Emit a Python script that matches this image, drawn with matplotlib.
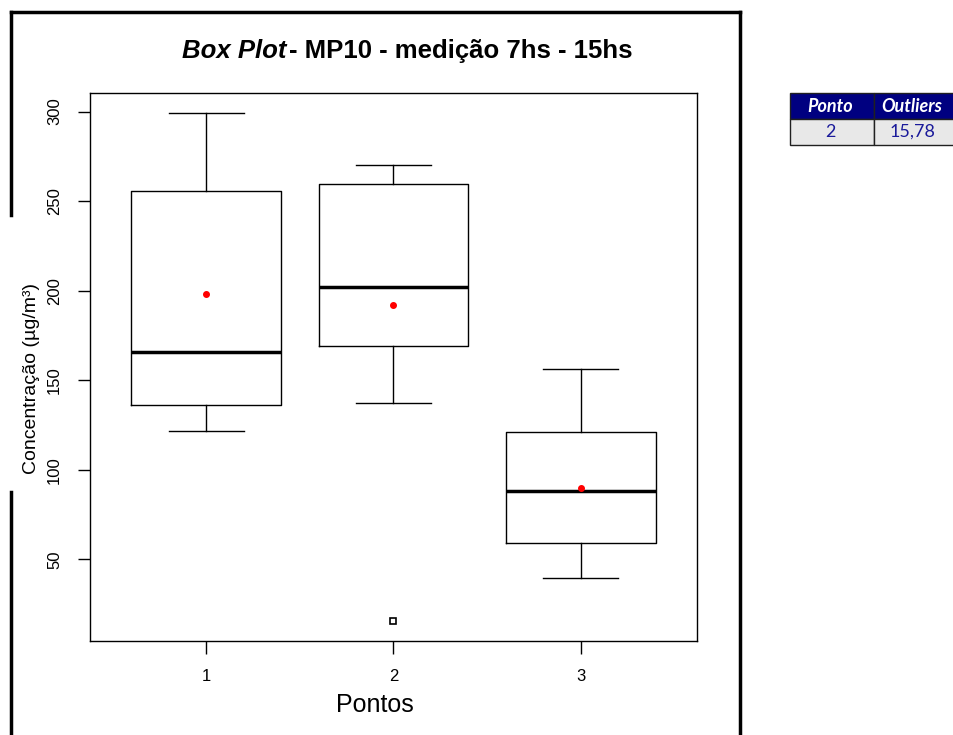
import matplotlib
matplotlib.use("Agg")
import matplotlib.pyplot as plt
from matplotlib.patches import Rectangle
from matplotlib.lines import Line2D

plt.rcParams['font.family'] = ['Liberation Sans', 'DejaVu Sans']

# resumo do box plot por ponto de medição
pontos = [1, 2, 3]
q1 = [136.4, 169.2, 58.9]
medianas = [165.9, 202.1, 88.4]
q3 = [255.6, 259.5, 121.3]
whis_lo = [121.9, 137.5, 39.4]
whis_hi = [299.0, 270.0, 156.4]
medias = [198.2, 192.0, 89.6]
outliers = [[], [15.78], []]

W, H = 954, 735
fig = plt.figure(figsize=(W / 100, H / 100), dpi=100)


def fx(px):
    return px / W


def fy(py):
    return 1 - py / H


ax = fig.add_axes([fx(90), fy(641), fx(697) - fx(90), fy(93) - fy(641)])

stats = []
for i in range(len(pontos)):
    stats.append(dict(med=medianas[i], q1=q1[i], q3=q3[i],
                      whislo=whis_lo[i], whishi=whis_hi[i],
                      mean=medias[i], fliers=outliers[i], label=str(pontos[i])))

ax.bxp(stats, positions=pontos, widths=0.8, capwidths=0.4, showmeans=True,
       boxprops=dict(color='black', linewidth=1),
       whiskerprops=dict(color='black', linewidth=1, linestyle='-'),
       capprops=dict(color='black', linewidth=1),
       medianprops=dict(color='black', linewidth=2.5),
       meanprops=dict(marker='o', markerfacecolor='red', markeredgecolor='red', markersize=4),
       flierprops=dict(marker='s', markerfacecolor='white', markeredgecolor='black',
                       markersize=4, markeredgewidth=1.2))

todos = [v for v in whis_lo + whis_hi] + [v for o in outliers for v in o]
lo, hi = min(todos), max(todos)
pad = 0.04 * (hi - lo)
ax.set_ylim(lo - pad, hi + pad)
ax.set_xlim(0.5 - 0.12, 3.5 + 0.12)
ax.set_yticks([50, 100, 150, 200, 250, 300])
ax.set_xticks(pontos)
ax.set_xticklabels([str(p) for p in pontos])
ax.tick_params(axis='both', direction='out', length=9, width=1, labelsize=12, pad=11)
for lab in ax.get_yticklabels():
    lab.set_rotation(90)
    lab.set_va('center')
for s in ax.spines.values():
    s.set_linewidth(1)
ax.set_xlabel('Pontos', fontsize=18)
ax.xaxis.set_label_coords((375 - 90) / (697 - 90), -(705 - 641) / (641 - 93))
ax.xaxis.label.set_va('center')
ax.set_ylabel('Concentração (µg/m³)', fontsize=14)
ax.yaxis.set_label_coords(-(90 - 31) / (697 - 90), (641 - 379) / (641 - 93))
ax.yaxis.label.set_va('center')

# titulo com "Box Plot" em italico
t1 = fig.text(fx(182), fy(51), 'Box Plot', fontsize=18.5, fontweight='bold',
              fontstyle='italic', ha='left', va='center')
ax.annotate('- MP10 - medição 7hs - 15hs', xy=(1, 0), xycoords=t1,
            xytext=(2, 0), textcoords='offset points',
            fontsize=18.5, fontweight='bold', ha='left', va='bottom',
            annotation_clip=False)

# moldura do grafico
frame_kw = dict(color='black', linewidth=2.5, transform=fig.transFigure)
fig.add_artist(Line2D([fx(11), fx(740)], [fy(12), fy(12)], **frame_kw))
fig.add_artist(Line2D([fx(740), fx(740)], [fy(12), fy(736)], **frame_kw))
fig.add_artist(Line2D([fx(11), fx(11)], [fy(12), fy(215)], **frame_kw))
fig.add_artist(Line2D([fx(11), fx(11)], [fy(492), fy(736)], **frame_kw))

# tabela de outliers
cab = ['Ponto', 'Outliers']
linhas = []
for p, o in zip(pontos, outliers):
    for v in o:
        linhas.append([str(p), ('%.2f' % v).replace('.', ',')])
col_x = [790, 874, 960]
row_y = [93, 120]
row_h = 26
for j, txt in enumerate(cab):
    fig.add_artist(Rectangle((fx(col_x[j]), fy(row_y[0] + row_h)), fx(col_x[j + 1] - col_x[j]),
                             row_h / H, transform=fig.transFigure, facecolor='#000080',
                             edgecolor='#202020', linewidth=1))
    fig.text(fx((col_x[j] + min(col_x[j + 1], 954)) / 2 - 2), fy(row_y[0] + row_h / 2), txt,
             color='white', fontsize=13, fontweight='bold', fontstyle='italic',
             family=['Lato', 'DejaVu Sans'], ha='center', va='center')
for i, lin in enumerate(linhas):
    y0 = row_y[0] + row_h * (i + 1)
    for j, txt in enumerate(lin):
        fig.add_artist(Rectangle((fx(col_x[j]), fy(y0 + row_h)), fx(col_x[j + 1] - col_x[j]),
                                 row_h / H, transform=fig.transFigure, facecolor='#e8e8e8',
                                 edgecolor='#202020', linewidth=1))
        fig.text(fx((col_x[j] + min(col_x[j + 1], 954)) / 2 - 2), fy(y0 + row_h / 2), txt,
                 color='#1a1a9a', fontsize=13, family=['Lato', 'DejaVu Sans'],
                 ha='center', va='center')

fig.savefig('out.png', dpi=100)
